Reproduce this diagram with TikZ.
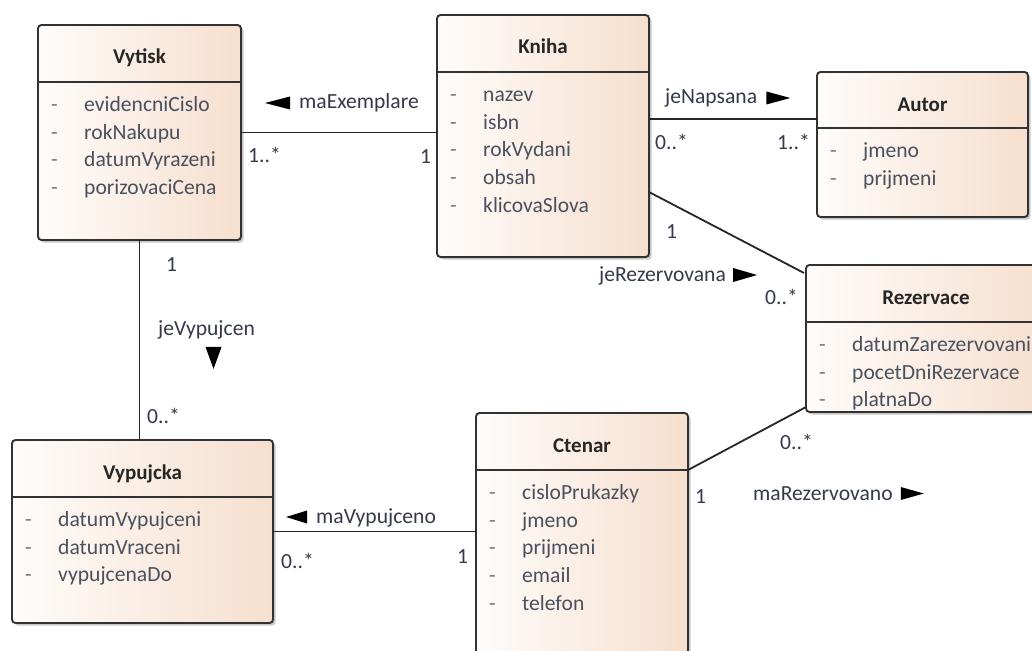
\documentclass[tikz,border=0pt]{standalone}
\usepackage{fontspec}
\setmainfont{Carlito}
\usetikzlibrary{shadows,calc}

\definecolor{boxline}{RGB}{50,50,50}
\definecolor{peach}{RGB}{246,223,206}
\definecolor{paper}{RGB}{254,252,250}
\definecolor{attrtext}{RGB}{74,80,95}
\definecolor{dashtext}{RGB}{115,115,120}
\definecolor{labeltext}{RGB}{52,58,74}
\definecolor{linkline}{RGB}{38,38,38}

\tikzset{
  classbox/.style={draw=boxline, line width=1.9pt, rounded corners=3.5pt,
    left color=paper, right color=peach, inner sep=0pt, outer sep=0pt,
    anchor=north west,
    drop shadow={shadow xshift=2.5pt, shadow yshift=-2.5pt, opacity=0.22, fill=black}},
  sepline/.style={draw=boxline, line width=1.6pt},
  classtitle/.style={font=\bfseries\fontsize{21}{25}\selectfont, text=black!85, anchor=base, inner sep=0pt},
  attrname/.style={font=\fontsize{21.6}{25}\selectfont, text=attrtext, anchor=base west, inner sep=0pt},
  attrdash/.style={font=\fontsize{21.6}{25}\selectfont, text=dashtext, anchor=base west, inner sep=0pt},
  assoc/.style={draw=linkline, line width=1.8pt},
  roletext/.style={font=\fontsize{21.6}{25}\selectfont, text=labeltext, anchor=base west, inner sep=0pt},
  multtext/.style={font=\fontsize{21.6}{25}\selectfont, text=labeltext, anchor=base west, inner sep=0pt},
  dirtri/.style={fill=black, draw=none},
}

% #1 name, #2 x, #3 y, #4 width, #5 height, #6 header height, #7 title, #8 attributes
\newcommand\drawclass[8]{%
  \node[classbox, minimum width=#4pt, minimum height=#5pt] (#1) at (#2,#3) {};
  \node[classtitle] (#1-title) at ($(#1.north)+(0,39)$) {#7};
  \draw[sepline] ($(#1.north west)+(0,#6)$) -- ($(#1.north east)+(0,#6)$);
  \foreach \a [count=\i] in {#8} {
    \node[attrdash] (#1-d\i) at ($(#1.north west)+(13,{#6+29.5+27.7*(\i-1)})$) {-};
    \node[attrname] (#1-a\i) at ($(#1.north west)+(46,{#6+29.5+27.7*(\i-1)})$) {\a};
  }
}

\begin{document}
\begin{tikzpicture}[x=1pt, y=-1pt]
\useasboundingbox (0,0) rectangle (1032,650);
\clip (0,0) rectangle (1032,650);
\fill[white] (0,0) rectangle (1032,650);

% classes
\drawclass{vytisk}{38}{25}{203}{215}{57}{Vytisk}{evidencniCislo,rokNakupu,datumVyrazeni,porizovaciCena}
\drawclass{kniha}{437}{15}{212}{242}{57}{Kniha}{nazev,isbn,rokVydani,obsah,klicovaSlova}
\drawclass{autor}{817}{72}{211}{145}{56}{Autor}{jmeno,prijmeni}
\drawclass{rezervace}{806}{265}{240}{147}{57}{Rezervace}{datumZarezervovani,pocetDniRezervace,platnaDo}
\drawclass{vypujcka}{12}{440}{261}{183}{57}{Vypujcka}{datumVypujceni,datumVraceni,vypujcenaDo}
\drawclass{ctenar}{476}{413}{212}{260}{57}{Ctenar}{cisloPrukazky,jmeno,prijmeni,email,telefon}

% associations
\coordinate (kaEnd) at ($(autor.north west)+(0,47)$);
\coordinate (krStart) at ($(kniha.south east)+(0,-65)$);
\coordinate (krEnd) at ($(rezervace.north west)+(-2,8)$);
\coordinate (rcStart) at ($(rezervace.south west)+(0,-5)$);
\coordinate (rcEnd) at ($(ctenar.north east)+(0,57)$);

\draw[assoc] (vytisk.east) -- (vytisk.east -| kniha.west);
\draw[assoc] (kniha.east |- kaEnd) -- (kaEnd);
\draw[assoc] (krStart) -- (krEnd);
\draw[assoc] (rcStart) -- (rcEnd);
\draw[assoc] (vytisk.south) -- (vytisk.south |- vypujcka.north);
\draw[assoc] (vypujcka.east) -- (vypujcka.east -| ctenar.west);

% association names with reading direction
\node[roletext] (lExemplare) at (299,109) {maExemplare};
\fill[dirtri] ($(lExemplare.base west)+(-9,-12.5)$) -- ++(0,13) -- ++(-25,-6.5) -- cycle;

\node[roletext] (lNapsana) at (665,104) {jeNapsana};
\fill[dirtri] ($(lNapsana.base east)+(9,-12.5)$) -- ++(0,13) -- ++(24,-6.5) -- cycle;

\node[roletext] (lRezervovana) at (599,281) {jeRezervovana};
\fill[dirtri] ($(lRezervovana.base east)+(7,-13)$) -- ++(0,14) -- ++(24,-7) -- cycle;

\node[roletext] (lRezervovano) at (753,500) {maRezervovano};
\fill[dirtri] ($(lRezervovano.base east)+(8,-13)$) -- ++(0,13) -- ++(23,-6.5) -- cycle;

\node[roletext] (lVypujcen) at (158,335) {jeVypujcen};
\fill[dirtri] ($(lVypujcen.south)+(-1,8)$) -- ++(16,0) -- ++(-8,22) -- cycle;

\node[roletext] (lVypujceno) at (316,523) {maVypujceno};
\fill[dirtri] ($(lVypujceno.base west)+(-9,-12.5)$) -- ++(0,13) -- ++(-21,-6.5) -- cycle;

% multiplicities
\node[multtext] (m1) at (248,162) {1..*};
\node[multtext] (m2) at (420,163) {1};
\node[multtext] (m3) at (655,149) {0..*};
\node[multtext] (m4) at (777,149) {1..*};
\node[multtext] (m5) at (666,238) {1};
\node[multtext] (m6) at (765,304) {0..*};
\node[multtext] (m7) at (780,449) {0..*};
\node[multtext] (m8) at (695,503) {1};
\node[multtext] (m9) at (166,271) {1};
\node[multtext] (m10) at (147,423) {0..*};
\node[multtext] (m11) at (281,568) {0..*};
\node[multtext] (m12) at (457,563) {1};
\end{tikzpicture}
\end{document}
